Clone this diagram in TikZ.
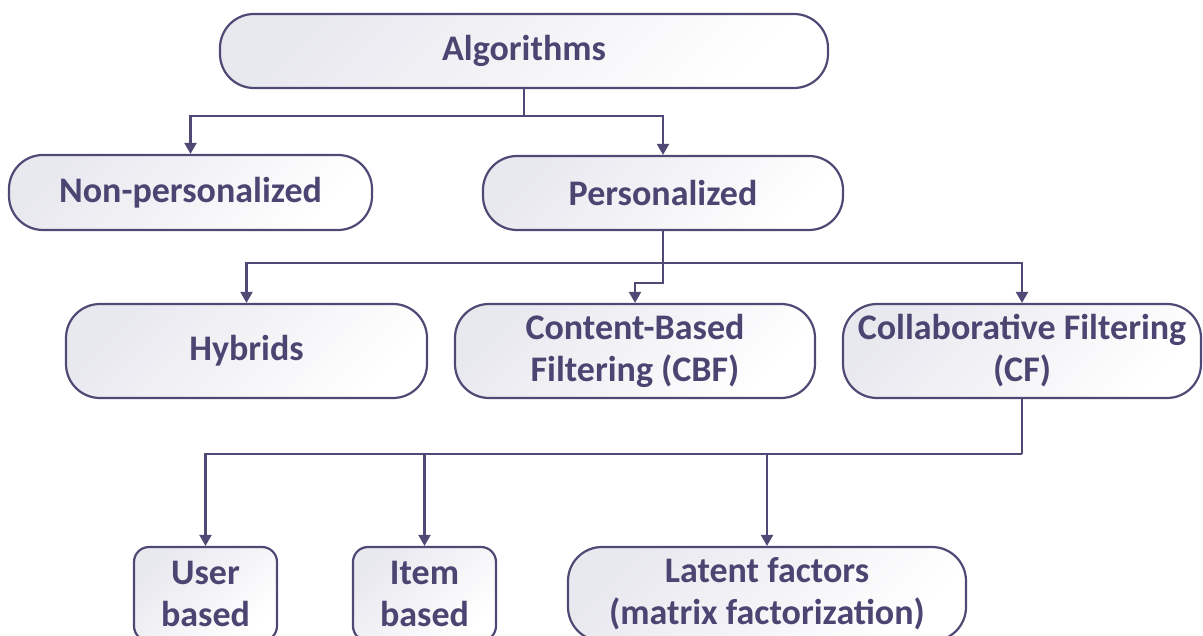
\documentclass[tikz,border=0pt]{standalone}
\usepackage{fontspec}
\setmainfont{Carlito}
\usetikzlibrary{arrows.meta,calc}
\definecolor{linec}{HTML}{4F4A75}
\definecolor{textc}{HTML}{4B4572}
\definecolor{fillc}{HTML}{E8E8EF}
\tikzset{
  box/.style={draw=linec, line width=2.2pt, rounded corners=34pt,
    top color=fillc, bottom color=white, shading angle=45,
    text=textc, font=\fontsize{36}{42}\selectfont\bfseries,
    align=center, inner sep=0pt},
  sbox/.style={box, rounded corners=15pt},
  arr/.style={draw=linec, line width=2.2pt, -{Triangle[length=11pt,width=12pt]}},
  ln/.style={draw=linec, line width=2.2pt}
}
\begin{document}
\begin{tikzpicture}[x=1pt,y=-1pt]
\clip (0,0) rectangle (1203,636);
\fill[white] (0,0) rectangle (1203,636);
\node[box, minimum width=608pt, minimum height=74pt] (alg) at (524,51) {Algorithms};
\node[box, minimum width=363pt, minimum height=75pt] (nonp) at (190.5,192.5) {Non-personalized};
\node[box, minimum width=360pt, minimum height=74pt] (pers) at (663,193) {Personalized};
\node[box, minimum width=361pt, minimum height=94pt] (hyb) at (246.5,351) {Hybrids};
\node[box, minimum width=360pt, minimum height=94pt] (cbf) at (635,351) {Content-Based\\Filtering (CBF)};
\node[box, minimum width=358pt, minimum height=94pt] (cf) at (1022,351) {Collaborative Filtering\\(CF)};
\node[sbox, minimum width=143pt, minimum height=94pt] (user) at (205.5,594) {User\\based};
\node[sbox, minimum width=143pt, minimum height=94pt] (item) at (424.5,594) {Item\\based};
\node[box, minimum width=398pt, minimum height=94pt] (lat) at (767,594) {Latent factors\\(matrix factorization)};
% connectors
\coordinate (j1) at (alg.south |- 0,116);
\draw[ln] (alg.south) -- (j1);
\draw[arr] (j1) -| (nonp.north);
\draw[arr] (j1) -| (pers.north);
\coordinate (j2) at (pers.south |- 0,283);
\coordinate (h1) at (pers.south |- 0,263);
\draw[arr] (pers.south) -- (j2) -| (cbf.north);
\draw[arr] (h1) -| (hyb.north);
\draw[arr] (h1) -| (cf.north);
\coordinate (j3) at (cf.south |- 0,454);
\draw[ln] (cf.south) -- (j3);
\draw[arr] (j3) -| (user.north);
\draw[arr] (j3) -| (item.north);
\draw[arr] (j3) -| (lat.north);
\end{tikzpicture}
\end{document}
